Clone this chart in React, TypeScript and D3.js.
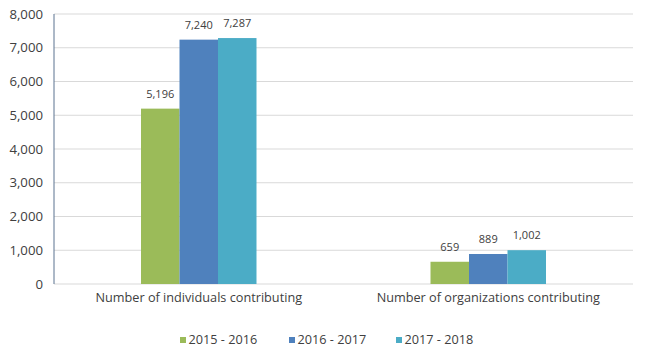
import React from 'react';
import * as d3 from 'd3';

const categories = ['Number of individuals contributing', 'Number of organizations contributing'];
const seriesNames = ['2015 - 2016', '2016 - 2017', '2017 - 2018'];
const seriesValues = [
  [5196, 659],
  [7240, 889],
  [7287, 1002],
];
const colors = ['#9BBB59', '#4F81BD', '#4BACC6'];
const yTicks = [0, 1000, 2000, 3000, 4000, 5000, 6000, 7000, 8000];

const App = () => {
  const width = 647;
  const height = 359;
  const left = 54, right = 633, top = 14, bottom = 284;

  const x0 = d3.scaleBand().domain(categories).range([left, right]).paddingInner(0).paddingOuter(0);
  const x1 = d3.scaleBand()
    .domain(seriesNames)
    .range([0, x0.bandwidth()])
    .paddingOuter(2.26)
    .paddingInner(0);
  const y = d3.scaleLinear().domain([0, 8000]).range([bottom, top]);
  const fmt = d3.format(',');
  const font = '"Open Sans", Lato, sans-serif';

  const legendX = [176, 285, 392];

  return (
    <svg width={width} height={height} style={{ position: 'absolute', left: 0, top: 0, fontFamily: font }}>
      <rect width={width} height={height} fill="#fff" />
      {/* grid */}
      {yTicks.map(t => (
        <g key={t}>
          <line x1={left} x2={right} y1={y(t)} y2={y(t)} stroke="#d9d9d9" strokeWidth={1} />
          <text x={43} y={y(t)} dy="0.35em" textAnchor="end" fontSize={13.2} fill="#404040">{fmt(t)}</text>
        </g>
      ))}
      {/* bars */}
      {seriesNames.map((s, si) => (
        <g key={s}>
          {categories.map((c, ci) => {
            const v = seriesValues[si][ci];
            const bx = (x0(c) as number) + (x1(s) as number);
            return (
              <g key={c}>
                <rect x={bx} y={y(v)} width={x1.bandwidth()} height={bottom - y(v)} fill={colors[si]} />
                <text x={bx + x1.bandwidth() / 2} y={y(v) - 11} textAnchor="middle" fontSize={11} fill="#404040">{fmt(v)}</text>
              </g>
            );
          })}
        </g>
      ))}
      {/* y axis line */}
      <line x1={left} x2={left} y1={top} y2={bottom} stroke="#5a7390" strokeWidth={1} />
      {/* category labels */}
      {categories.map(c => (
        <text key={c} x={(x0(c) as number) + x0.bandwidth() / 2} y={298} dy="0.35em" textAnchor="middle" fontSize={12.7} fill="#404040">{c}</text>
      ))}
      {/* legend */}
      {seriesNames.map((s, i) => (
        <g key={s} transform={`translate(${legendX[i]},340)`}>
          <rect x={4} y={-3} width={6} height={6} fill={colors[i]} />
          <text x={12.5} y={0} dy="0.35em" fontSize={12.7} fill="#404040">{s}</text>
        </g>
      ))}
    </svg>
  );
};

export default App;
